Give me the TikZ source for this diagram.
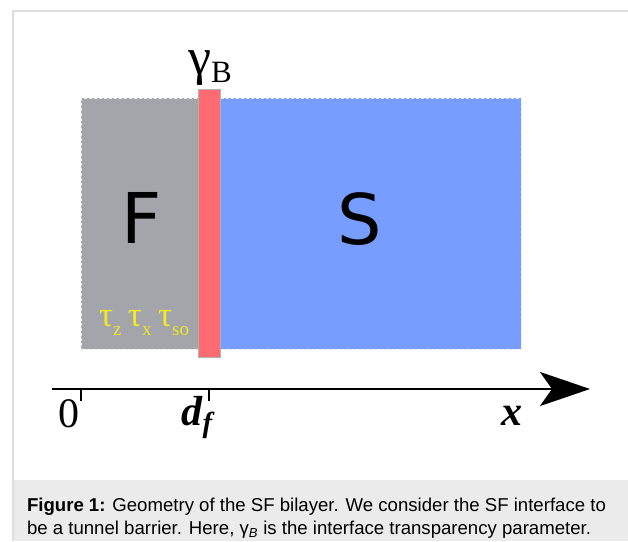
\documentclass[tikz,border=0pt]{standalone}
\usepackage{fontspec}
\setmainfont{Liberation Serif}
\newfontfamily\capfont{Liberation Sans}
\newfontfamily\layerfont{DejaVu Sans}
\usetikzlibrary{arrows.meta}
\definecolor{ColFerro}{RGB}{163,165,171}
\definecolor{ColSuper}{RGB}{118,157,255}
\definecolor{ColBarrier}{RGB}{255,107,112}
\definecolor{ColFrame}{RGB}{221,221,221}
\definecolor{ColCaption}{RGB}{235,235,235}
\definecolor{ColTau}{RGB}{240,232,40}

\begin{document}
\begin{tikzpicture}[
  x=1pt, y=-1pt,
  >={Stealth[length=50pt,width=34pt,inset=12pt]},
  line join=miter,
  layer/.style={draw=white!85!gray, densely dashed, line width=0.6pt},
  tick/.style={line width=1.4pt},
  axislabel/.style={font=\fontsize{42}{42}\selectfont, anchor=base},
  captext/.style={font=\capfont\fontsize{18.6}{18.6}\selectfont, anchor=base west},
  every node/.style={inner sep=0pt, outer sep=0pt}
]
  \useasboundingbox (0,0) rectangle (628,541);

  % Frame and caption band
  \fill[ColCaption] (13,480) rectangle (628,541);
  \draw[ColFrame, line width=1.2pt] (628,11) -- (13,11) -- (13,541);

  % Layers
  \fill[ColFerro] (81,98) rectangle (198,349);
  \draw[layer] (81,98) rectangle (198,349);
  \fill[ColSuper] (220,98) rectangle (521,349);
  \draw[layer] (220,98) rectangle (521,349);
  \filldraw[fill=ColBarrier, draw=gray!60, line width=0.6pt] (198,89) rectangle (220,357);

  \node[font=\layerfont\fontsize{70}{70}\selectfont, anchor=base] (ferro) at (142,243) {F};
  \node[font=\layerfont\fontsize{70}{70}\selectfont, anchor=base] (super) at (360,244) {S};
  \node[anchor=base] (gamma) at (210,74)
    {\fontsize{52}{52}\selectfont γ\raisebox{-8pt}{\fontsize{31}{31}\selectfont B}};
  \node[anchor=base west, text=ColTau] (tau) at (99,326)
    {\fontsize{35}{35}\selectfont τ\raisebox{-9pt}{\fontsize{19}{19}\selectfont z}\kern6.5pt%
     τ\raisebox{-9pt}{\fontsize{19}{19}\selectfont x}\kern6.5pt%
     τ\raisebox{-9pt}{\fontsize{19}{19}\selectfont so}};

  % Axis
  \coordinate (start) at (52,389);
  \coordinate (tip) at (590,389);
  \draw[->, line width=2.8pt] (start) -- (tip);
  \foreach \tx in {81,209}{\draw[tick] (\tx,389) -- (\tx,401);}
  \node[axislabel] (zero) at (69,427) {0};
  \node[axislabel, anchor=base west] (df) at (181,425)
    {\textbf{\textit{d}}\raisebox{-7pt}{\fontsize{29}{29}\selectfont\textbf{\textit{f}}}};
  \node[axislabel] (xlab) at (512,425) {\textbf{\textit{x}}};

  % Caption
  \node[captext] (cap1) at (27,511)
    {\textbf{Figure 1:} Geometry of the SF bilayer. We consider the SF interface to};
  \node[captext] (cap2) at (27,534)
    {be a tunnel barrier. Here, γ\textsubscript{\textit{B}} is the interface transparency parameter.};
\end{tikzpicture}
\end{document}
